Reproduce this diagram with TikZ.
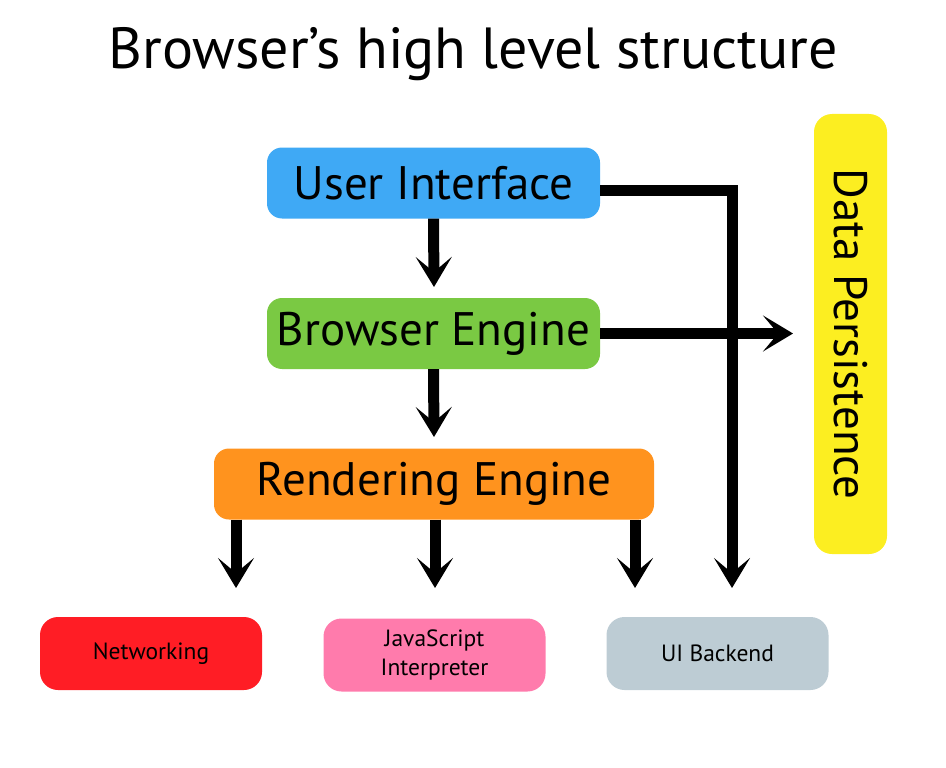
\documentclass[tikz,border=0pt]{standalone}
\usepackage{fontspec}
\setmainfont{PT Sans}
\usetikzlibrary{arrows.meta}
\definecolor{uiblue}{HTML}{3FA9F5}
\definecolor{begreen}{HTML}{7AC943}
\definecolor{reorange}{HTML}{FF931E}
\definecolor{dpyellow}{HTML}{FCEE21}
\definecolor{netred}{HTML}{FF1D25}
\definecolor{jspink}{HTML}{FF7BAC}
\definecolor{uigray}{HTML}{BDCCD4}
\begin{document}
\begin{tikzpicture}[x=1pt,y=-1pt,
  box/.style={rounded corners=15pt, inner sep=0pt, minimum height=71pt, font=\fontsize{47}{50}\selectfont},
  small/.style={rounded corners=18pt, inner sep=0pt, minimum width=222pt, minimum height=73pt, font=\fontsize{23.5}{29}\selectfont, align=center},
  conn/.style={line width=11pt, -{Stealth[length=30pt,width=36pt,inset=15pt]}}]
\useasboundingbox (0,0) rectangle (946,768);
\node[font=\fontsize{58}{62}\selectfont] (title) at (473,54) {Browser’s high level structure};
\node[box, fill=uiblue, minimum width=333pt] (ui) at (433.5,183) {User Interface};
\node[box, fill=begreen, minimum width=333pt] (be) at (433.5,333.5) {Browser Engine};
\node[box, fill=reorange, minimum width=440pt] (re) at (434,484) {Rendering Engine};
\node[fill=dpyellow, rounded corners=18pt, inner sep=0pt, minimum width=440pt, minimum height=73pt, rotate=-90, font=\fontsize{47}{50}\selectfont] (dp) at (850.5,334) {Data Persistence};
\node[small, fill=netred] (net) at (151,653.5) {Networking};
\node[small, fill=jspink] (js) at (434.5,655) {JavaScript\\Interpreter};
\node[small, fill=uigray] (uib) at (717.5,653.5) {UI Backend};
\coordinate (a1) at (434,287);
\coordinate (a2) at (434,437);
\coordinate (dpin) at (793,333.5);
\coordinate (ubk) at (732,588);
\coordinate (r1) at (236,588);
\coordinate (r2) at (435,588);
\coordinate (r3) at (635,588);
\draw[conn] (ui.south) -- (a1);
\draw[conn] (be.south) -- (a2);
\draw[conn] (be.east) -- (dpin);
\draw[conn] ([yshift=-7pt]ui.east) -| (ubk);
\draw[conn] (re.south -| r1) -- (r1);
\draw[conn] (re.south -| r2) -- (r2);
\draw[conn] (re.south -| r3) -- (r3);
\end{tikzpicture}
\end{document}
